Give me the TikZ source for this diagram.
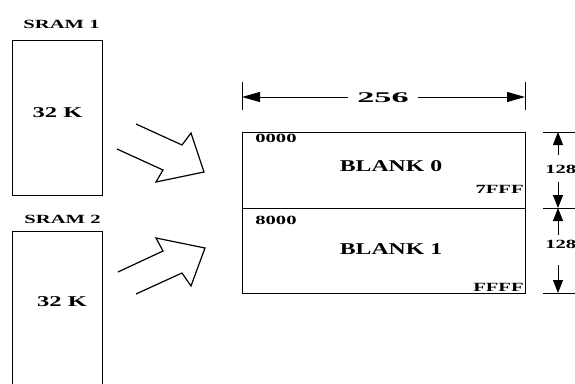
\documentclass[tikz,border=0pt]{standalone}
\usepackage{fontspec}
\setmainfont{Liberation Serif}
\usetikzlibrary{arrows.meta}

\begin{document}
\begin{tikzpicture}[
  x=1pt, y=-1pt,
  membox/.style={draw, line width=0.9pt, inner sep=0pt, outer sep=0pt},
  txtsmall/.style={font=\fontsize{12.5}{14}\selectfont\bfseries, xscale=1.65, inner sep=0pt},
  txtmid/.style={font=\fontsize{15}{17}\selectfont\bfseries, xscale=1.64, inner sep=0pt},
  txtbig/.style={font=\fontsize{16.5}{18}\selectfont\bfseries, xscale=1.44, inner sep=0pt},
  blockarrow/.style={draw, line width=1.2pt, line join=miter},
  dimh/.style={-{Triangle[length=18pt, width=10pt]}, line width=0.9pt},
  dimv/.style={-{Triangle[length=13pt, width=10pt]}, line width=0.9pt},
  tick/.style={line width=0.9pt}
]
  \useasboundingbox (0,0) rectangle (575,383);
  \clip (0,0) rectangle (575,383);

  % SRAM chips
  \node[membox, minimum width=90pt, minimum height=155pt] (sram1) at (57,117.5) {};
  \node[membox, minimum width=90pt, minimum height=180pt] (sram2) at (57,321) {};
  \node[txtsmall, anchor=base] (sram1lbl) at (61.5,28) {SRAM 1};
  \node[txtsmall, anchor=base] (sram2lbl) at (62.5,223) {SRAM 2};
  \node[txtmid, anchor=base] (sram1size) at (57.5,117) {32 K};
  \node[txtmid, anchor=base] (sram2size) at (62,306) {32 K};

  % block arrows
  \draw[blockarrow] (136,124) -- (182,145) -- (191,133) -- (204,172)
    -- (156,182) -- (163,170) -- (117,149);
  \draw[blockarrow] (118,272) -- (163,251) -- (156,238) -- (205,248)
    -- (191,286) -- (182,273) -- (136,294);

  % memory map
  \node[membox, minimum width=283pt, minimum height=76pt] (blank0) at (383.5,170) {};
  \node[membox, minimum width=283pt, minimum height=85pt] (blank1) at (383.5,250.5) {};
  \node[txtbig, anchor=base] (blank0lbl) at (391,171) {BLANK 0};
  \node[txtbig, anchor=base] (blank1lbl) at (391,254) {BLANK 1};
  \node[txtsmall, anchor=base west] (addr0) at (255,142) {0000};
  \node[txtsmall, anchor=base east] (addr1) at (524,193) {7FFF};
  \node[txtsmall, anchor=base west] (addr2) at (255,224) {8000};
  \node[txtsmall, anchor=base east] (addr3) at (524,291) {FFFF};

  % width dimension
  \coordinate (wl) at (242,97);
  \coordinate (wr) at (525,97);
  \node[txtsmall, font=\fontsize{14.8}{16}\selectfont\bfseries, xscale=1.4, anchor=base] (width) at (383,102) {256};
  \draw[tick] (242,82) -- (242,110);
  \draw[tick] (525,82) -- (525,110);
  \draw[dimh] (348,97) -- (wl);
  \draw[dimh] (418,97) -- (wr);

  % height dimensions
  \coordinate (ht) at (558,132);
  \coordinate (hm) at (558,208);
  \coordinate (hb) at (558,293);
  \draw[tick] (543,132) -- (580,132);
  \draw[tick] (543,208) -- (580,208);
  \draw[tick] (543,293) -- (580,293);
  \node[txtsmall, anchor=base west] (h0) at (545,173) {128};
  \node[txtsmall, anchor=base west] (h1) at (545,248) {128};
  \draw[dimv] (558,155) -- (ht);
  \draw[dimv] (558,182) -- (hm);
  \draw[dimv] (558,235) -- (hm);
  \draw[dimv] (558,265) -- (hb);
\end{tikzpicture}
\end{document}
